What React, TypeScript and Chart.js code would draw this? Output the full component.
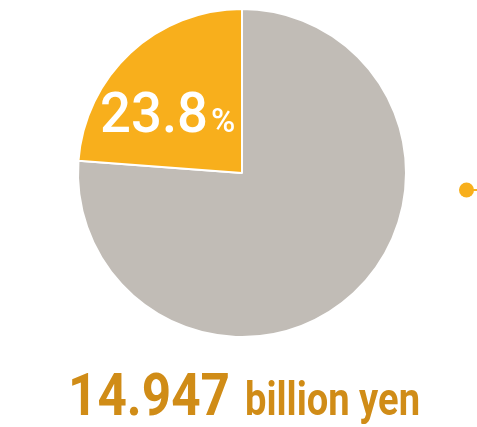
import React, { useEffect, useRef } from "react";
import { Chart, registerables } from "chart.js";

Chart.register(...registerables);

const categories = ["Other", "Share"];
const values = [76.2, 23.8];
const sliceColors = ["#C1BCB6", "#F8AF1C"];
const shareLabel = "23.8";
const totalLabel = "14.947";
const unitLabel = "billion yen";

export default function App() {
  const ref = useRef<HTMLCanvasElement | null>(null);
  useEffect(() => {
    if (!ref.current) return;
    const chart = new Chart(ref.current, {
      type: "pie",
      data: {
        labels: categories,
        datasets: [
          {
            data: values,
            backgroundColor: sliceColors,
            borderColor: "#ffffff",
            borderWidth: 2,
          },
        ],
      },
      options: {
        responsive: false,
        animation: false,
        layout: { padding: { left: 77, right: 70, top: 8, bottom: 89 } },
        plugins: { legend: { display: false }, tooltip: { enabled: false } },
      },
    });
    return () => chart.destroy();
  }, []);

  return (
    <div style={{ position: "fixed", left: 0, top: 0, width: 477, height: 427, background: "#fff" }}>
      <canvas ref={ref} width={477} height={427} style={{ position: "absolute", left: 0, top: 0 }} />
      <svg width={477} height={427} style={{ position: "absolute", left: 0, top: 0 }}>
        <text x={100} y={132} fill="#ffffff" fontFamily="Roboto" fontWeight={500} fontSize={56} textLength={108} lengthAdjust="spacingAndGlyphs">
          {shareLabel}
        </text>
        <text x={211} y={132} fill="#ffffff" fontFamily="Roboto" fontWeight={500} fontSize={33}>
          %
        </text>
        <text x={68} y={415} fill="#D08C17" fontFamily="Roboto" fontWeight="bold" fontSize={59} textLength={162} lengthAdjust="spacingAndGlyphs">
          {totalLabel}
        </text>
        <text x={245} y={415} fill="#D08C17" fontFamily="Roboto" fontWeight="bold" fontSize={47} textLength={175} lengthAdjust="spacingAndGlyphs">
          {unitLabel}
        </text>
        <circle cx={466.5} cy={190} r={7.5} fill="#F8AF1C" />
        <line x1={470} y1={190} x2={477} y2={190} stroke="#F8AF1C" strokeWidth={2} />
      </svg>
    </div>
  );
}
